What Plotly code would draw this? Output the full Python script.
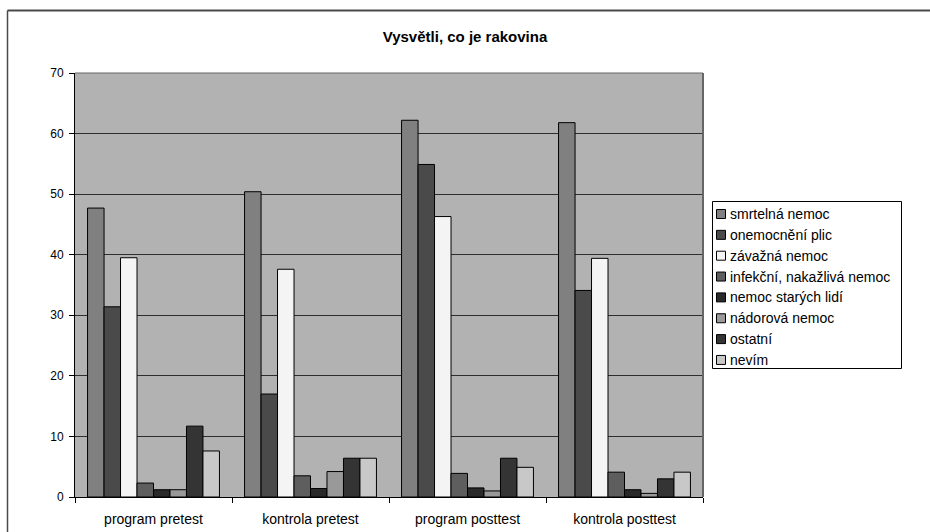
import plotly.graph_objects as go

# Survey groups on the category axis
groups = ["program pretest", "kontrola pretest", "program posttest", "kontrola posttest"]

# Answer categories (one bar series each) and their percentages per group
answers = [
    "smrtelná nemoc",
    "onemocnění plic",
    "závažná nemoc",
    "infekční, nakažlivá nemoc",
    "nemoc starých lidí",
    "nádorová nemoc",
    "ostatní",
    "nevím",
]
smrtelna = [47.7, 50.4, 62.2, 61.8]
plice = [31.4, 17.0, 54.9, 34.1]
zavazna = [39.5, 37.6, 46.3, 39.4]
infekcni = [2.3, 3.5, 3.9, 4.1]
stari = [1.2, 1.4, 1.5, 1.2]
nadorova = [1.2, 4.2, 1.0, 0.6]
ostatni = [11.7, 6.4, 6.4, 3.0]
nevim = [7.6, 6.4, 4.9, 4.1]

series = [smrtelna, plice, zavazna, infekcni, stari, nadorova, ostatni, nevim]
fills = ["#808080", "#4a4a4a", "#f4f4f4", "#5e5e5e", "#2a2a2a", "#999999", "#343434", "#c8c8c8"]

fig = go.Figure()
for name, vals, col in zip(answers, series, fills):
    fig.add_trace(go.Bar(
        x=groups, y=vals, name=name,
        marker=dict(color=col, line=dict(color="#000000", width=1)),
    ))

W, H = 930, 532
L, R, T, B = 75, 227, 73, 35
pw, ph = W - L - R, H - T - B

def px_x(x):
    return (x - L) / pw

def px_y(y):
    return (H - B - y) / ph

FONT = "Liberation Sans, Arial, sans-serif"

shapes = [
    # plot area border (top and right)
    dict(type="line", xref="paper", yref="paper", x0=0, x1=1, y0=1, y1=1,
         line=dict(color="#666666", width=1)),
    dict(type="line", xref="paper", yref="paper", x0=1, x1=1, y0=0, y1=1,
         line=dict(color="#666666", width=2)),
    # outer chart frame
    dict(type="line", xref="paper", yref="paper",
         x0=px_x(7.5), x1=px_x(940), y0=px_y(10.5), y1=px_y(10.5),
         line=dict(color="#4a4a4a", width=2)),
    dict(type="line", xref="paper", yref="paper",
         x0=px_x(7.5), x1=px_x(7.5), y0=px_y(10.5), y1=px_y(545),
         line=dict(color="#4a4a4a", width=1.5)),
    # legend frame
    dict(type="rect", xref="paper", yref="paper",
         x0=px_x(712.5), x1=px_x(901.5), y0=px_y(368.5), y1=px_y(201.5),
         line=dict(color="#000000", width=1), fillcolor="#ffffff", layer="above"),
]
annotations = []

# legend entries: swatch + label
row0, step = 214.0, 20.85
for i, (name, col) in enumerate(zip(answers, fills)):
    yc = row0 + i * step
    shapes.append(dict(
        type="rect", xref="paper", yref="paper",
        x0=px_x(716.5), x1=px_x(725.5), y0=px_y(yc + 4.5), y1=px_y(yc - 4.5),
        line=dict(color="#000000", width=1), fillcolor=col, layer="above",
    ))
    annotations.append(dict(
        xref="paper", yref="paper", x=px_x(728), y=px_y(yc),
        xanchor="left", yanchor="middle", showarrow=False,
        text=name, font=dict(family=FONT, size=14, color="#000000"),
    ))

fig.update_layout(
    width=W, height=H,
    margin=dict(l=L, r=R, t=T, b=B, pad=0),
    paper_bgcolor="#ffffff",
    plot_bgcolor="#b2b2b2",
    font=dict(family=FONT, size=14, color="#000000"),
    barmode="group",
    bargap=0.16,
    bargroupgap=0,
    showlegend=False,
    title=dict(
        text="<b>Vysvětli, co je rakovina</b>",
        x=0.5, xref="container", xanchor="center",
        y=1 - 37 / H, yref="container", yanchor="middle",
        font=dict(family=FONT, size=15, color="#000000"),
    ),
    xaxis=dict(
        type="category", tickson="boundaries", ticks="outside", ticklen=5,
        tickcolor="#000000", showline=True, linecolor="#000000", linewidth=1,
        showgrid=False, tickfont=dict(size=14), ticklabelstandoff=9,
        automargin=False,
    ),
    yaxis=dict(
        range=[0, 70], dtick=10, ticks="outside", ticklen=5, tickcolor="#000000",
        showline=True, linecolor="#000000", linewidth=1,
        showgrid=True, gridcolor="#2e2e2e", gridwidth=1,
        zeroline=False, tickfont=dict(size=12), ticklabelstandoff=3,
        automargin=False,
    ),
    shapes=shapes,
    annotations=annotations,
)

fig.write_html("out.html")
